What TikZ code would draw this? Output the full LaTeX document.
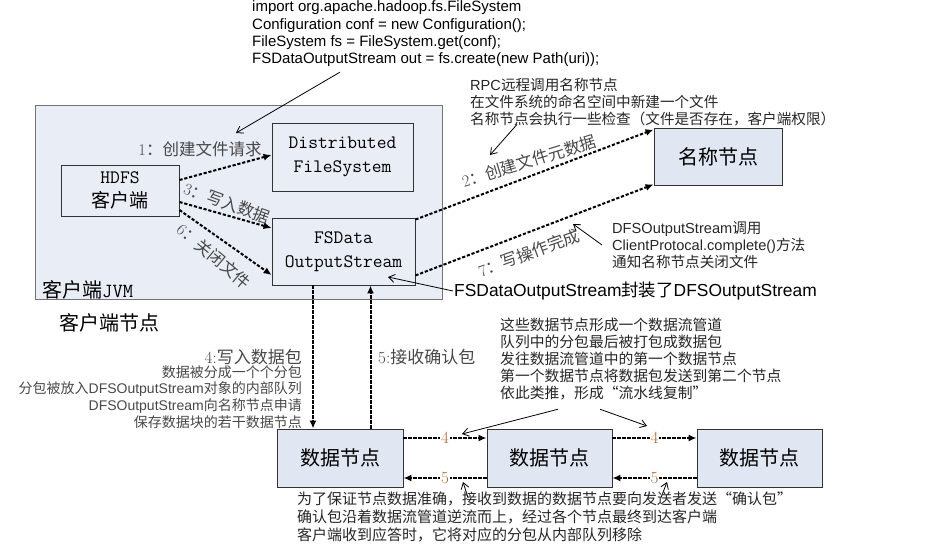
\documentclass[tikz,border=0pt]{standalone}
\usepackage{fontspec}
\usetikzlibrary{arrows.meta}
\newfontfamily\cjk{Noto Sans CJK SC}
\newfontfamily\arial{Liberation Sans}
\definecolor{boxblue}{RGB}{224,231,242}
\definecolor{jvmblue}{RGB}{232,237,246}
\definecolor{labelgray}{RGB}{72,72,72}
\definecolor{hopbrown}{RGB}{170,105,60}

\tikzset{
  jvmbox/.style={draw=black!55, fill=jvmblue, line width=1pt},
  compbox/.style={draw=black!80, fill=jvmblue, line width=0.9pt, align=center,
    font=\fontsize{19}{24}\selectfont\ttfamily},
  nodebox/.style={draw=black!80, fill=boxblue, line width=0.9pt,
    font=\cjk\fontsize{20}{24}\selectfont},
  flow/.style={line width=2pt, dash pattern=on 3.2pt off 1.8pt,
    -{Latex[length=8pt,width=7pt]}},
  note/.style={line width=0.8pt, -{Straight Barb[length=6pt,width=8pt]}},
  steplabel/.style={text=labelgray, inner sep=1pt, font=\cjk\fontsize{16.5}{18}\selectfont},
  remark/.style={align=left, inner sep=1pt, text=black!85, font=\cjk\fontsize{14.6}{17.3}\selectfont},
  hoplabel/.style={fill=white, text=hopbrown, inner sep=1pt, font=\fontsize{17}{17}\selectfont},
}

\begin{document}
\begin{tikzpicture}[x=1pt, y=-1pt]
\useasboundingbox (0,0) rectangle (940,545);

% client JVM
\node[jvmbox, minimum width=407, minimum height=194] (jvm) at (238.5,203) {};
\node[anchor=west, inner sep=1pt, font=\cjk\fontsize{20}{24}\selectfont] (jvmname) at (41,290) {客户端{\ttfamily JVM}};
\node[compbox, minimum width=118, minimum height=51] (hdfs) at (120,190.5) {HDFS\\{\cjk 客户端}};
\node[compbox, minimum width=141, minimum height=68] (dfs) at (342.5,157) {Distributed\\FileSystem};
\node[compbox, minimum width=143, minimum height=67] (fsdos) at (343.5,251.5) {FSData\\OutputStream};

% name node and data nodes
\node[nodebox, minimum width=128, minimum height=57] (namenode) at (718,156.5) {名称节点};
\node[nodebox, minimum width=126, minimum height=58] (dn1) at (340,458) {数据节点};
\node[nodebox, minimum width=125, minimum height=58] (dn2) at (549.5,458) {数据节点};
\node[nodebox, minimum width=125, minimum height=58] (dn3) at (759.5,458) {数据节点};

% texts
\node[anchor=west, align=left, inner sep=1pt, font=\arial\fontsize{15}{17.3}\selectfont] (code) at (251,34)
  {import org.apache.hadoop.fs.FileSystem\\Configuration conf = new Configuration();\\FileSystem fs = FileSystem.get(conf);\\FSDataOutputStream out = fs.create(new Path(uri));};
\node[remark, anchor=west] (rpc) at (469,102)
  {{\arial RPC}远程调用名称节点\\在文件系统的命名空间中新建一个文件\\名称节点会执行一些检查（文件是否存在，客户端权限）};
\node[remark, anchor=west] (dfsnote) at (611,245)
  {{\arial DFSOutputStream}调用\\{\arial ClientProtocal.complete()}方法\\通知名称节点关闭文件};
\node[anchor=west, inner sep=1pt, font=\cjk\fontsize{17.4}{20}\selectfont] (wrap) at (453,291)
  {{\arial FSDataOutputStream}封装了{\arial DFSOutputStream}};
\node[anchor=west, inner sep=1pt, font=\cjk\fontsize{20}{24}\selectfont] (clientnode) at (58,323) {客户端节点};
\node[steplabel, anchor=east, font=\cjk\fontsize{17}{20}\selectfont] (step4) at (303,357) {\textrm{4:}写入数据包};
\node[remark, anchor=north east, align=right, text=labelgray, font=\cjk\fontsize{14}{16.7}\selectfont] (step4note) at (303,364)
  {数据被分成一个个分包\\分包被放入{\arial DFSOutputStream}对象的内部队列\\{\arial DFSOutputStream}向名称节点申请\\保存数据块的若干数据节点};
\node[steplabel, anchor=west, font=\cjk\fontsize{17}{20}\selectfont] (step5) at (377,357) {\textrm{5:}接收确认包};
\node[remark, anchor=west, font=\cjk\fontsize{14.8}{17}\selectfont] (pipenote) at (499,359)
  {这些数据节点形成一个数据流管道\\队列中的分包最后被打包成数据包\\发往数据流管道中的第一个数据节点\\第一个数据节点将数据包发送到第二个节点\\依此类推，形成“流水线复制”};
\node[remark, anchor=west, font=\cjk\fontsize{15}{18}\selectfont] (acknote) at (296,517)
  {为了保证节点数据准确，接收到数据的数据节点要向发送者发送“确认包”\\确认包沿着数据流管道逆流而上，经过各个节点最终到达客户端\\客户端收到应答时，它将对应的分包从内部队列移除};

% step labels
\node[steplabel] (lbl1) at (200,149) {\textrm{1}：创建文件请求};
\node[steplabel, rotate=-20] (lbl3) at (227,203) {\textrm{3}：写入数据};
\node[steplabel, rotate=-40] (lbl6) at (214,256) {\textrm{6}：关闭文件};
\node[steplabel, rotate=17] (lbl2) at (529,161) {\textrm{2}：创建文件元数据};
\node[steplabel, rotate=20] (lbl7) at (529,253) {\textrm{7}：写操作完成};

% client side calls
\draw[flow] ([yshift=10.5]hdfs.east) -- ([yshift=2]dfs.west);
\draw[flow] ([yshift=-11.5]hdfs.east) -- ([yshift=23.5]fsdos.west);
\draw[flow] ([yshift=-19.5]hdfs.east) -- ([yshift=-23.5]fsdos.west);

% calls to the name node
\draw[flow] ([yshift=-2]fsdos.north east) -- ([yshift=-2]namenode.north west);
\draw[flow] ([yshift=10]fsdos.south east) -- ([yshift=1]namenode.south west);

% packets and acks
\draw[flow] ([xshift=-30.5]fsdos.south) -- ([xshift=-30.5]fsdos.south |- dn1.north);
\draw[flow] ([xshift=27]fsdos.south |- dn1.north) -- ([xshift=27]fsdos.south);
\draw[flow] ([yshift=20]dn1.east) -- ([yshift=20]dn2.west) node[hoplabel, midway] {4};
\draw[flow] ([yshift=20]dn2.east) -- ([yshift=20]dn3.west) node[hoplabel, midway] {4};
\draw[flow] ([yshift=-20]dn2.west) -- ([yshift=-20]dn1.east) node[hoplabel, midway] {5};
\draw[flow] ([yshift=-20]dn3.west) -- ([yshift=-20]dn2.east) node[hoplabel, midway] {5};

% pointers from the remarks
\coordinate (codeend) at (236,133);
\coordinate (rpcend) at (490,155);
\coordinate (doneend) at (573,224);
\coordinate (wrapend) at (388,277);
\coordinate (pipeend1) at (462,434);
\coordinate (pipeend2) at (647,426);
\coordinate (ackend1) at (463,482);
\coordinate (ackend2) at (667,482);
\draw[note] ([xshift=89,yshift=-4]code.south west) -- (codeend);
\draw[note] ([xshift=48,yshift=3]rpc.south west) -- (rpcend);
\draw[note] ([xshift=-9]dfsnote.west) -- (doneend);
\draw[note] (wrap.west) -- (wrapend);
\draw[note] ([xshift=59,yshift=-8]pipenote.south west) -- (pipeend1);
\draw[note] ([xshift=101,yshift=-8]pipenote.south west) -- (pipeend2);
\draw[note] ([xshift=172,yshift=-7]acknote.north west) -- (ackend1);
\draw[note] ([xshift=365,yshift=-7]acknote.north west) -- (ackend2);
\end{tikzpicture}
\end{document}
